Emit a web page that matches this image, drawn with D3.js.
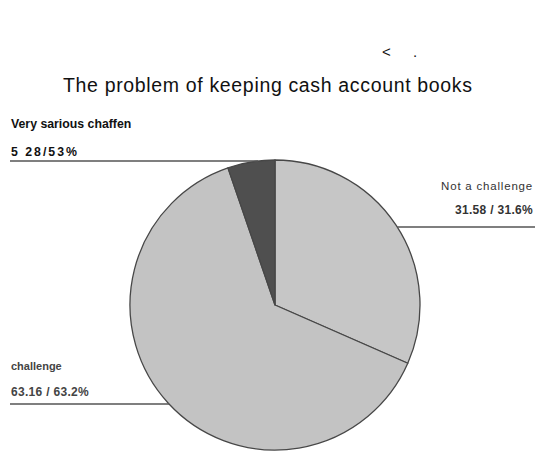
<!DOCTYPE html>
<html>
<head>
<meta charset="utf-8">
<script src="https://cdn.jsdelivr.net/npm/d3@7/dist/d3.min.js"></script>
<style>
  html, body { margin: 0; padding: 0; background: #fff; }
  svg { display: block; }
</style>
</head>
<body>
<svg id="chart" width="535" height="451"></svg>
<script>
// Survey answers on keeping cash account books
const categories = ["Not a challenge", "challenge", "Very sarious chaffen"];
const values = [31.58, 63.16, 5.26];
const valueLabels = ["31.58 / 31.6%", "63.16 / 63.2%", "5 28/53%"];
const sliceColors = ["#c6c6c6", "#c3c3c3", "#4f4f4f"];

const svg = d3.select("#chart");
const W = 535, H = 451;
const cx = 275, cy = 305, R = 145;
const font = "Liberation Sans, Arial, sans-serif";

// Header marks and title
svg.append("text").attr("x", 382).attr("y", 57)
  .attr("font-family", font).attr("font-size", 15).attr("fill", "#111").text("<");
svg.append("text").attr("x", 413).attr("y", 57)
  .attr("font-family", font).attr("font-size", 15).attr("fill", "#111").text(".");
svg.append("text").attr("x", 63).attr("y", 92)
  .attr("font-family", font).attr("font-size", 19.5).attr("fill", "#111")
  .attr("textLength", 409).attr("lengthAdjust", "spacing")
  .text("The problem of keeping cash account books");

// Pie
const pie = d3.pie().sort(null).value(d => d)(values);
const arc = d3.arc().innerRadius(0).outerRadius(R);
const g = svg.append("g").attr("transform", `translate(${cx},${cy})`);
g.selectAll("path").data(pie).join("path")
  .attr("d", arc)
  .attr("fill", (d, i) => sliceColors[i])
  .attr("stroke", "#474747")
  .attr("stroke-width", 1.3)
  .attr("stroke-linejoin", "round");

// Labels with horizontal leader lines running to the pie edge
const labelLayout = [
  { side: "right", nameY: 190, valueY: 214, lineY: 227, anchorX: 533,
    nameStyle: { size: 11.5, weight: "normal", spacing: 0.8 },
    valueStyle: { size: 12, weight: "bold", spacing: 0.3 }, color: "#333" },
  { side: "left", nameY: 370, valueY: 396, lineY: 404, anchorX: 11,
    nameStyle: { size: 11, weight: "bold", spacing: 0 },
    valueStyle: { size: 12, weight: "bold", spacing: 0.3 }, color: "#444" },
  { side: "left", nameY: 128, valueY: 156, lineY: 161, anchorX: 11,
    nameStyle: { size: 12.3, weight: "bold", spacing: 0 },
    valueStyle: { size: 12.3, weight: "bold", spacing: 2 }, color: "#111" }
];

categories.forEach((name, i) => {
  const L = labelLayout[i];
  const dy = L.lineY - cy;
  const edge = Math.sqrt(Math.max(0, R * R - dy * dy));
  const x1 = L.side === "right" ? W : L.anchorX - 1;
  const x2 = L.side === "right" ? cx + edge : cx - edge;
  svg.append("line")
    .attr("x1", x1).attr("x2", x2)
    .attr("y1", L.lineY).attr("y2", L.lineY)
    .attr("stroke", "#555").attr("stroke-width", 1.5);
  const anchor = L.side === "right" ? "end" : "start";
  svg.append("text").attr("x", L.anchorX).attr("y", L.nameY)
    .attr("text-anchor", anchor)
    .attr("font-family", font).attr("font-size", L.nameStyle.size)
    .attr("font-weight", L.nameStyle.weight)
    .attr("letter-spacing", L.nameStyle.spacing)
    .attr("fill", L.color)
    .text(name);
  svg.append("text").attr("x", L.anchorX).attr("y", L.valueY)
    .attr("text-anchor", anchor)
    .attr("font-family", font).attr("font-size", L.valueStyle.size)
    .attr("font-weight", L.valueStyle.weight)
    .attr("letter-spacing", L.valueStyle.spacing)
    .attr("fill", L.color)
    .text(valueLabels[i]);
});
</script>
</body>
</html>
